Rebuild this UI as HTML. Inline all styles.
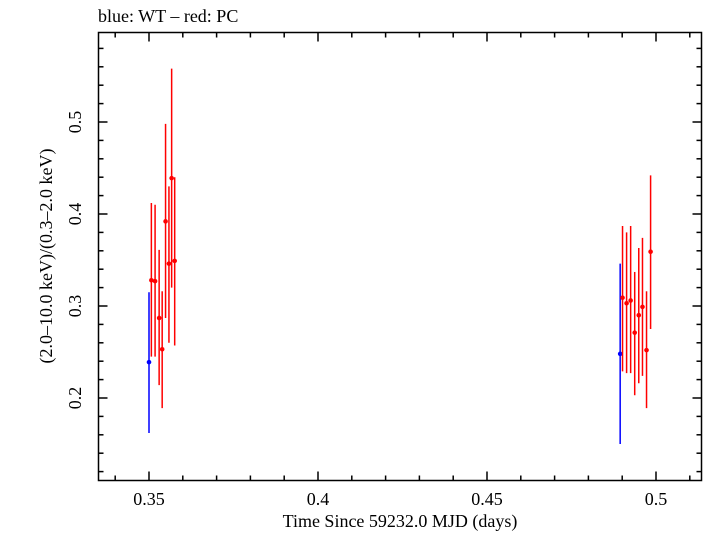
<!DOCTYPE html>
<html><head><meta charset="utf-8"><style>
body{margin:0;background:#fff}
svg text{font-family:"Liberation Serif",serif;fill:#000}
</style></head><body>
<svg id="chart" width="705" height="532" xmlns="http://www.w3.org/2000/svg">
<text x="98" y="22" font-size="18">blue: WT – red: PC</text>
<rect x="98.5" y="32.5" width="603" height="448" fill="none" stroke="#000" stroke-width="1.5"/>
<g id="ticks"></g>
<g id="marks"></g>
<text x="400" y="527" font-size="18" text-anchor="middle">Time Since 59232.0 MJD (days)</text>
<text transform="translate(52,256) rotate(-90)" font-size="18" text-anchor="middle">(2.0–10.0 keV)/(0.3–2.0 keV)</text>
</svg>
<script>
const xTicks=[0.35,0.4,0.45,0.5];
const xTickLabels=["0.35","0.4","0.45","0.5"];
const yTicks=[0.2,0.3,0.4,0.5];
const yTickLabels=["0.2","0.3","0.4","0.5"];
const wtX=[0.35,0.4894];
const wtY=[0.239,0.248];
const wtLo=[0.162,0.150];
const wtHi=[0.315,0.346];
const pcX=[0.3507,0.3518,0.353,0.3539,0.3549,0.3559,0.3567,0.3576,0.4901,0.4913,0.4925,0.4937,0.4949,0.496,0.4972,0.4984];
const pcY=[0.328,0.327,0.287,0.253,0.392,0.346,0.439,0.349,0.309,0.303,0.306,0.271,0.290,0.299,0.252,0.359];
const pcLo=[0.245,0.245,0.214,0.189,0.287,0.260,0.320,0.257,0.229,0.227,0.227,0.203,0.216,0.224,0.189,0.275];
const pcHi=[0.412,0.410,0.361,0.316,0.498,0.430,0.558,0.440,0.387,0.380,0.387,0.337,0.363,0.374,0.316,0.442];

const NS="http://www.w3.org/2000/svg";
const L=98.5,R=701.5,T=32.5,B=480.5;
function sx(v){return 149+(v-0.35)*3380;}
function sy(v){return 398-(v-0.2)*920;}
function mk(tag,attrs,parent){const e=document.createElementNS(NS,tag);for(const k in attrs)e.setAttribute(k,attrs[k]);parent.appendChild(e);return e;}
const tg=document.getElementById('ticks');
function line(x1,y1,x2,y2,p){return mk('line',{x1,y1,x2,y2,stroke:'#000','stroke-width':1.5},p);}
for(let i=0;i<=20;i++){const v=0.34+i*0.01;const x=sx(v);if(x<L||x>R)continue;
 const major=Math.abs(Math.round(v*100)%5)===0;const len=major?9:5;
 line(x,B,x,B-len,tg);line(x,T,x,T+len,tg);}
for(let i=0;i<=30;i++){const v=0.12+i*0.02;const y=sy(v);if(y<T||y>B)continue;
 const major=Math.abs(Math.round(v*100)%10)===0;const len=major?9:5;
 line(L,y,L+len,y,tg);line(R,y,R-len,y,tg);}
xTicks.forEach((v,i)=>{const t=mk('text',{x:sx(v),y:505,'font-size':18,'text-anchor':'middle'},tg);t.textContent=xTickLabels[i];

});
yTicks.forEach((v,i)=>{const t=mk('text',{transform:`translate(81,${sy(v)}) rotate(-90)`,'font-size':18,'text-anchor':'middle'},tg);t.textContent=yTickLabels[i];

});
const mg=document.getElementById('marks');
function series(X,Y,Lo,Hi,col,name){X.forEach((x,i)=>{
 const l=mk('line',{x1:sx(x),x2:sx(x),y1:sy(Lo[i]),y2:sy(Hi[i]),stroke:col,'stroke-width':1.5},mg);
 
 
 const c=mk('circle',{cx:sx(x),cy:sy(Y[i]),r:2.3,fill:col},mg);
 
 
});}
series(wtX,wtY,wtLo,wtHi,'#0000ff','wt');
series(pcX,pcY,pcLo,pcHi,'#ff0000','pc');
</script>
</body></html>
